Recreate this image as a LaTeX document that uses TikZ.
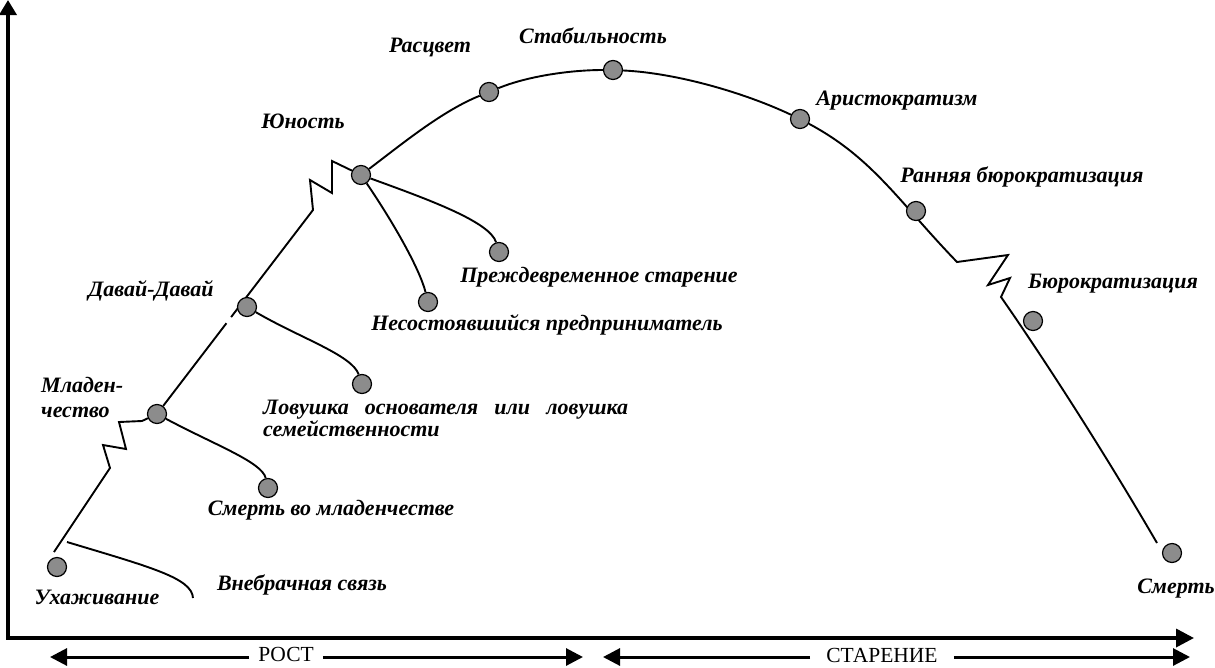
\documentclass[tikz,border=0pt]{standalone}
\usepackage{fontspec}
\setmainfont{Liberation Serif}
\usetikzlibrary{arrows.meta,calc}

\tikzset{
  stage/.style={circle, draw, line width=1.2pt, fill=black!45, minimum size=19pt, inner sep=0pt},
  lbl/.style={font=\fontsize{22}{24}\selectfont\bfseries\itshape, inner sep=0pt},
  lifeline/.style={line width=1.9pt, line join=miter},
  phase/.style={font=\fontsize{21.5}{24}\selectfont, inner ysep=0pt},
  phasebar/.style={line width=3pt, -{Triangle[length=17pt,width=17pt]}}
}

\begin{document}
\begin{tikzpicture}[x=1pt,y=-1pt]
                \useasboundingbox (0,0) rectangle (1215,667);
                % axes
                \coordinate (ytop) at (8,0);
                \coordinate (o) at (8,638);
                \coordinate (xend) at (1194,638);
                \draw[line width=3.5pt, {Triangle[length=15pt,width=17pt]}-{Triangle[length=18pt,width=18pt]}] (ytop) -- (o) -- (xend);
                % stages on the curve
                \node[stage] (m) at (157,414) {};
                \node[stage] (j) at (361,175) {};
                \node[stage] (r) at (489,92) {};
                \node[stage] (s) at (613,70) {};
                \node[stage] (a) at (800,119) {};
                % growth side
                \coordinate (g0) at (54,552);
                \coordinate (g1) at (110,468);
                \coordinate (g2) at (103,445);
                \coordinate (g3) at (126,449);
                \coordinate (g4) at (119,422);
                \coordinate (g5) at (142,421);
                \draw[lifeline] (g0) -- (g1) -- (g2) -- (g3) -- (g4) -- (g5) -- (m);
                \coordinate (k0) at (313,210);
                \coordinate (k1) at (310,180);
                \coordinate (k2) at (332,193);
                \coordinate (k3) at (332,161);
                \draw[lifeline] (m) -- ($(m)!0.445!(k0)$);
                \draw[lifeline] ($(m)!0.475!(k0)$) -- (k0) -- (k1) -- (k2) -- (k3) -- (j);
                \draw[lifeline] (j) .. controls (402,144) and (442,111) .. (r);
                \draw[lifeline] (r) .. controls (528,76) and (571,70) .. (s);
                \draw[lifeline] (s) .. controls (677,73) and (745,93) .. (a);
                % ageing side
                \coordinate (q0) at (957,262);
                \coordinate (q1) at (1008,255);
                \coordinate (q2) at (988,285);
                \coordinate (q3) at (1010,278);
                \coordinate (q4) at (1001,297);
                \coordinate (q5) at (1157,543);
                \draw[lifeline] (a) .. controls (873,158) and (899,202) .. (q0) -- (q1) -- (q2) -- (q3) -- (q4)
                        .. controls (1040,353) and (1100,445) .. (q5);
                % stages off the curve
                \node[stage] (u) at (57,567) {};
                \node[stage] (d) at (247,307) {};
                \node[stage] (ra) at (916,211) {};
                \node[stage] (b) at (1033,321) {};
                \node[stage] (sd) at (1172,553) {};
                \node[stage] (sm) at (268,488) {};
                \node[stage] (lov) at (362,384) {};
                \node[stage] (nes) at (428,302) {};
                \node[stage] (pre) at (499,252) {};
                % traps
                \coordinate (w0) at (67,542);
                \coordinate (w1) at (193,598);
                \draw[lifeline] (w0) .. controls (150,567) and (192,578) .. (w1);
                \draw[lifeline] (m) .. controls (215,445) and (262,462) .. (sm);
                \draw[lifeline] (d) .. controls (300,338) and (352,355) .. (lov);
                \draw[lifeline] (j) .. controls (395,225) and (420,270) .. (nes);
                \draw[lifeline] (j) .. controls (430,200) and (490,222) .. (pre);
                % labels
                \node[lbl, anchor=base] (lu) at (97,604) {Ухаживание};
                \node[lbl, anchor=base] (lw) at (302,590) {Внебрачная связь};
                \node[lbl, anchor=north west, align=left] (lm) at (41,377) {Младен-\\[1pt]чество};
                \node[lbl, anchor=base] (lsm) at (331,515) {Смерть во младенчестве};
                \node[lbl, anchor=base] (ld) at (151,296) {Давай-Давай};
                \node[lbl, anchor=north west, align=left, font=\fontsize{22}{22}\selectfont\bfseries\itshape] (llov) at (263,400)
                        {\makebox[365pt][s]{Ловушка основателя или ловушка}\\семейственности};
                \node[lbl, anchor=base] (lj) at (303,128) {Юность};
                \node[lbl, anchor=base] (lnes) at (547,330) {Несостоявшийся предприниматель};
                \node[lbl, anchor=base] (lpre) at (599,282) {Преждевременное старение};
                \node[lbl, anchor=base] (lr) at (430,52) {Расцвет};
                \node[lbl, anchor=base] (ls) at (593,43) {Стабильность};
                \node[lbl, anchor=base] (la) at (897,105) {Аристократизм};
                \node[lbl, anchor=base] (lra) at (1022,182) {Ранняя бюрократизация};
                \node[lbl, anchor=base] (lb) at (1113,288) {Бюрократизация};
                \node[lbl, anchor=base] (lsd) at (1176,593) {Смерть};
                % phases
                \node[phase, anchor=base, inner xsep=9pt] (rost) at (286,661) {РОСТ};
                \coordinate (rostL) at (50,657);
                \coordinate (rostR) at (583,657);
                \draw[phasebar] (rost.west |- rostL) -- (rostL);
                \draw[phasebar] (rost.east |- rostR) -- (rostR);
                \node[phase, anchor=base, inner xsep=16pt] (star) at (882,662) {СТАРЕНИЕ};
                \coordinate (starL) at (603,657);
                \coordinate (starR) at (1190,657);
                \draw[phasebar] (star.west |- starL) -- (starL);
                \draw[phasebar] (star.east |- starR) -- (starR);
            \end{tikzpicture}
\end{document}
